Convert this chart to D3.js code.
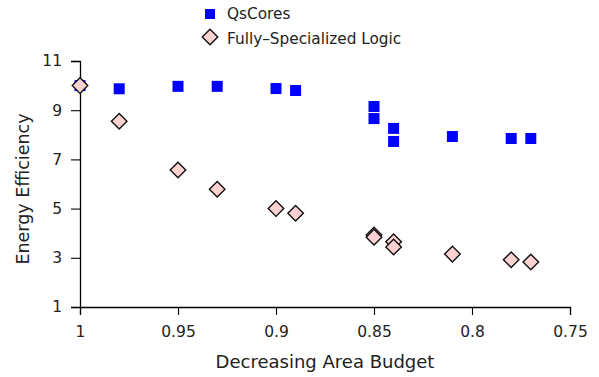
<!DOCTYPE html>
<html>
<head>
<meta charset="utf-8">
<script src="https://cdn.jsdelivr.net/npm/d3@7"></script>
<style>
  html, body { margin: 0; padding: 0; background: #fff; }
  svg { display: block; font-family: "DejaVu Sans", sans-serif; }
</style>
</head>
<body>
<svg id="chart" width="599" height="377"></svg>
<script>
// Area budget (x) and energy efficiency (y) for each configuration
const qsBudget   = [1.00, 0.98, 0.95, 0.93, 0.90, 0.89, 0.85, 0.85, 0.84, 0.84, 0.81, 0.78, 0.77];
const qsEnergy   = [10.0, 9.87, 9.97, 9.97, 9.88, 9.80, 9.15, 8.66, 8.26, 7.73, 7.93, 7.85, 7.85];
const fslBudget  = [1.00, 0.98, 0.95, 0.93, 0.90, 0.89, 0.85, 0.85, 0.84, 0.84, 0.81, 0.78, 0.77];
const fslEnergy  = [10.0, 8.55, 6.57, 5.79, 5.00, 4.81, 3.93, 3.84, 3.65, 3.44, 3.15, 2.92, 2.83];
const xTicks = [1, 0.95, 0.9, 0.85, 0.8, 0.75];
const yTicks = [1, 3, 5, 7, 9, 11];
const seriesNames = ["QsCores", "Fully\u2013Specialized Logic"];

const svg = d3.select("#chart");
const plotLeft = 80, plotRight = 570, plotTop = 61, plotBottom = 307;

const x = d3.scaleLinear().domain([1, 0.75]).range([plotLeft, plotRight]);
const y = d3.scaleLinear().domain([1, 11]).range([plotBottom, plotTop]);

// Axes
const xAxis = svg.append("g")
  .attr("transform", `translate(0,${plotBottom})`)
  .call(d3.axisBottom(x).tickValues(xTicks).tickFormat(d3.format("")).tickSizeOuter(0).tickSize(8).tickPadding(11));
const yAxis = svg.append("g")
  .attr("transform", `translate(${plotLeft},0)`)
  .call(d3.axisLeft(y).tickValues(yTicks).tickSizeOuter(0).tickSize(9).tickPadding(9));

[xAxis, yAxis].forEach(g => {
  g.select(".domain").attr("stroke", "#000").attr("stroke-width", 1.3);
  g.selectAll(".tick line").attr("stroke", "#000").attr("stroke-width", 1.1);
  g.selectAll(".tick text").attr("fill", "#222").style("font-size", "15.5px")
    .style("font-family", "DejaVu Sans, sans-serif");
});

// Axis titles
svg.append("text")
  .attr("x", (plotLeft + plotRight) / 2).attr("y", 368)
  .attr("text-anchor", "middle").attr("fill", "#222")
  .style("font-size", "18px")
  .text("Decreasing Area Budget");
svg.append("text")
  .attr("transform", `translate(29,189) rotate(-90)`)
  .attr("text-anchor", "middle").attr("fill", "#222")
  .style("font-size", "17.5px")
  .text("Energy Efficiency");

// Markers
const sq = 11;
const diamond = d3.symbol().type(d3.symbolSquare).size(121);

svg.append("g").selectAll("rect")
  .data(d3.zip(qsBudget, qsEnergy))
  .join("rect")
  .attr("x", d => x(d[0]) - sq / 2)
  .attr("y", d => y(d[1]) - sq / 2)
  .attr("width", sq).attr("height", sq)
  .attr("fill", "#0000ff");

svg.append("g").selectAll("path")
  .data(d3.zip(fslBudget, fslEnergy))
  .join("path")
  .attr("transform", d => `translate(${x(d[0])},${y(d[1])}) rotate(45)`)
  .attr("d", diamond)
  .attr("fill", "#ffd2d2")
  .attr("stroke", "#111")
  .attr("stroke-width", 1.4);

// Legend
const legend = svg.append("g");
legend.append("rect")
  .attr("x", 205).attr("y", 9).attr("width", 10).attr("height", 10)
  .attr("fill", "#0000ff");
legend.append("path")
  .attr("transform", "translate(210,37) rotate(45)")
  .attr("d", diamond)
  .attr("fill", "#ffd2d2").attr("stroke", "#111").attr("stroke-width", 1.4);
legend.selectAll("text")
  .data(seriesNames)
  .join("text")
  .attr("x", 227)
  .attr("y", (d, i) => 14 + i * 25)
  .attr("dy", "0.35em")
  .attr("fill", "#222")
  .style("font-size", "15.3px")
  .text(d => d);
</script>
</body>
</html>
